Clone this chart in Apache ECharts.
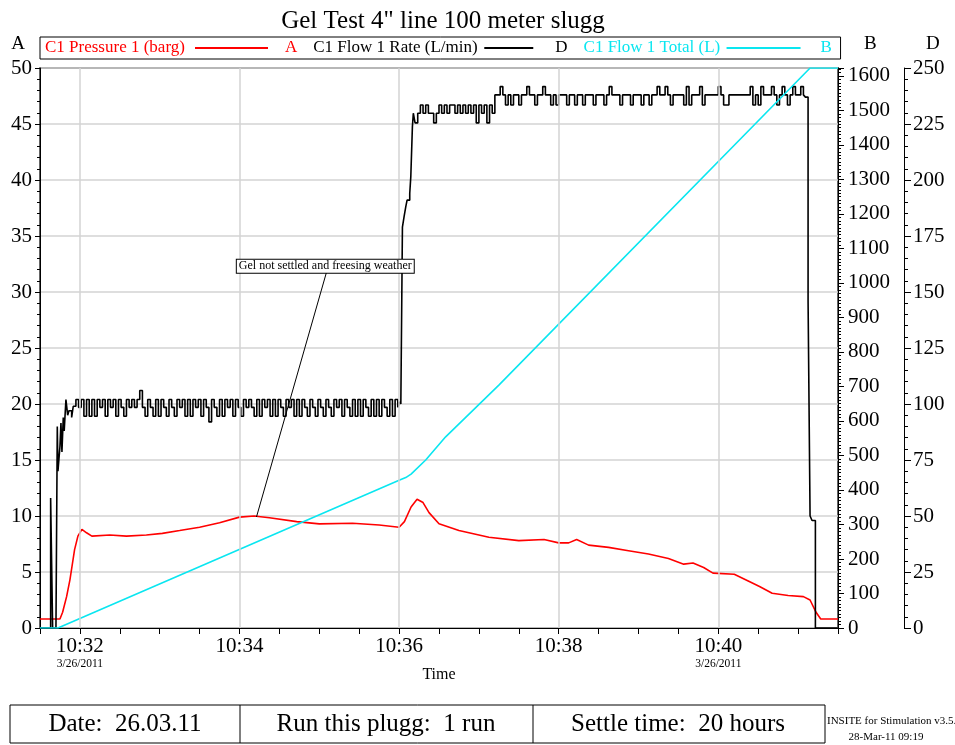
<!DOCTYPE html>
<html>
<head>
<meta charset="utf-8">
<script src="https://cdn.jsdelivr.net/npm/echarts@6/dist/echarts.min.js"></script>
<style>
  html, body { margin: 0; padding: 0; background: #fff; }
  #main { width: 955px; height: 745px; }
</style>
</head>
<body>
<div id="main"></div>
<script>
// time in seconds after 10:31:30 (3/26/2011)
var baseSec = 10 * 3600 + 31 * 60 + 30;
var majorTimes = [30, 150, 270, 390, 510];
var dateTimes = [30, 510];

// C1 Pressure 1 (barg) - axis A
var pressureT = [0, 15, 17, 20, 22.5, 26, 28.5, 31.5, 33, 35, 39, 52.5, 65, 80, 92, 105, 120, 135, 150, 161,
  172.5, 193, 210, 235, 255, 270, 274, 279, 283.5, 288, 292.5, 300, 315, 337.5, 360, 379, 390, 397.5, 403.5, 412.5,
  427.5, 442.5, 457.5, 472.5, 484, 491, 499, 506, 522, 532.5, 541, 550.5, 562.5, 574, 579, 583.5, 587, 600];
var pressureV = [0.8, 0.8, 1.4, 2.8, 4.3, 7.0, 8.2, 8.8, 8.9, 8.5, 8.2, 8.3, 8.2, 8.3, 8.45, 8.7, 9.0, 9.4, 9.9, 10.0,
  9.85, 9.5, 9.3, 9.35, 9.2, 9.0, 9.5, 10.8, 11.5, 11.2, 10.3, 9.3, 8.7, 8.1, 7.8, 7.9, 7.6, 7.6, 7.9, 7.4,
  7.2, 6.9, 6.6, 6.2, 5.7, 5.8, 5.4, 4.9, 4.8, 4.2, 3.7, 3.1, 2.9, 2.8, 2.5, 1.4, 0.8, 0.8];

// C1 Flow 1 Rate (L/min) - axis D
var rateHeadT = [0, 6, 8, 9.5, 12, 13, 13.5, 15, 15.75, 16.5, 17.5, 18.2, 19.5, 20.8, 21.75, 23.8, 25];
var rateHeadV = [0, 0, 58, 0, 0, 90, 70, 81, 91.5, 78.6, 94, 88, 102, 95, 97, 94, 99];
var rateStep = 2;
var rateNoise1Start = 27;
var rateNoise1 = [102, 98.5, 102, 94.5, 102, 94.5, 102, 94.5, 102, 98.5, 102, 94.5, 102, 98.5, 102, 94.5, 102, 98.5, 94.5, 102,
  98.5, 102, 98.5, 102, 106, 98.5, 94.5, 102, 98.5, 94.5, 102, 94.5, 102, 98.5, 94.5, 102, 98.5, 94.5, 102, 98.5,
  102, 94.5, 102, 94.5, 102, 98.5, 102, 94.5, 102, 98.5, 92, 102, 98.5, 94.5, 102, 94.5, 102, 98.5, 102, 94.5,
  102, 98.5, 94.5, 102, 98.5, 102, 98.5, 94.5, 102, 94.5, 102, 98.5, 102, 94.5, 102, 94.5, 102, 98.5, 94.5, 102,
  98.5, 102, 94.5, 102, 94.5, 102, 98.5, 94.5, 102, 98.5, 94.5, 102, 98.5, 94.5, 102, 98.5, 94.5, 102, 98.5, 102,
  94.5, 102, 98.5, 94.5, 102, 94.5, 102, 94.5, 102, 98.5, 94.5, 102, 94.5, 102, 94.5, 102, 98.5, 94.5, 102, 94.5,
  102, 98.5];
var rateRiseT = [270.5, 271.3, 272.5, 273.75, 275, 276, 278, 278.8, 280, 280.7];
var rateRiseV = [101, 100, 179, 183.6, 188, 191, 194, 201.5, 223.8, 229.8];
var rateNoise2Start = 282;
var rateNoise2 = [225.5, 229.8, 233.5, 229.8, 233.5, 229.8, 229.8, 225.5, 229.8, 233.5, 229.8, 233.5, 229.8, 233.5, 233.5,
  229.8, 233.5, 229.8, 233.5, 229.8, 233.5, 229.8, 233.5, 225.5, 233.5, 229.8, 233.5, 225.5, 233.5, 229.8];
var rateNoise3Start = 342;
var rateNoise3 = [238, 238, 241.7, 238, 233.5, 238, 233.5, 238, 238, 233.5, 238, 238, 241.7, 238, 238, 233.5, 238, 238, 241.7, 238,
  238, 233.5, 238, 233.5, 238, 238, 238, 233.5, 238, 238, 233.5, 238, 238, 233.5, 238, 238, 238, 233.5, 238, 238,
  238, 233.5, 238, 241.7, 238, 238, 238, 233.5, 238, 238, 238, 233.5, 238, 238, 238, 233.5, 238, 238, 233.5, 238,
  238, 241.7, 238, 238, 241.7, 238, 233.5, 238, 238, 238, 238, 233.5, 241.7, 233.5, 238, 238, 238, 241.7, 233.5, 238,
  238, 238, 238, 238, 241.7, 238, 233.5, 233.5, 238, 238, 238, 238, 238, 238, 238, 238, 241.7, 233.5, 238, 233.5,
  241.7, 238, 238, 238, 241.7, 238, 233.5, 238, 241.7, 238, 233.5, 238, 241.7, 238, 238, 241.7, 238];
var rateTailT = [575.5, 577.5, 579, 580.5, 583, 600];
var rateTailV = [237, 146, 50, 48, 0, 0];

// C1 Flow 1 Total (L) - axis B
var totalT = [0, 13.5, 270, 275, 279, 290, 305, 345, 579, 600];
var totalV = [0, 0, 428, 436, 446, 487, 554, 704, 1623, 1623];

var FONT = 'Liberation Serif';
var RED = '#ff0000', CYAN = '#0ae6f0';

function pairs(ts, vs) {
  var out = [];
  for (var i = 0; i < ts.length; i++) out.push([ts[i], vs[i]]);
  return out;
}
function stepped(start, vs) {
  var out = [];
  for (var i = 0; i < vs.length; i++) out.push([start + i * rateStep, vs[i]]);
  return out;
}
function fmtTime(v) {
  var s = baseSec + v;
  var h = Math.floor(s / 3600);
  var m = Math.floor((s % 3600) / 60);
  return h + ':' + (m < 10 ? '0' : '') + m;
}

var rateData = pairs(rateHeadT, rateHeadV)
  .concat(stepped(rateNoise1Start, rateNoise1))
  .concat(pairs(rateRiseT, rateRiseV))
  .concat(stepped(rateNoise2Start, rateNoise2))
  .concat(stepped(rateNoise3Start, rateNoise3))
  .concat(pairs(rateTailT, rateTailV));

var legendText = {
  'C1 Pressure 1 (barg)': '{t1|C1 Pressure 1 (barg)}{l1| }{s1| }{kr|A}',
  'C1 Flow 1 Rate (L/min)': '{t2|C1 Flow 1 Rate (L/min)}{l2| }{s2| }{kb|D}',
  'C1 Flow 1 Total (L)': '{t3|C1 Flow 1 Total (L)}{l3| }{s3| }{kc|B}'
};

var tickOut = { show: true, inside: false, lineStyle: { color: '#000' } };

var myChart = echarts.init(document.getElementById('main'));
var option = {
  animation: false,
  backgroundColor: '#fff',
  title: {
    text: 'Gel Test 4" line 100 meter slugg',
    left: 438, top: 4, textAlign: 'center',
    textStyle: { fontFamily: FONT, fontSize: 25, fontWeight: 'normal', color: '#000' }
  },
  legend: {
    left: 40, top: 37,
    icon: 'rect', itemWidth: 0, itemHeight: 0, itemGap: 11,
    padding: [2, 8, 2, 0],
    borderColor: '#000', borderWidth: 1,
    selectedMode: false,
    data: ['C1 Pressure 1 (barg)', 'C1 Flow 1 Rate (L/min)', 'C1 Flow 1 Total (L)'],
    formatter: function (name) { return legendText[name]; },
    textStyle: {
      fontFamily: FONT, fontSize: 17, lineHeight: 18,
      rich: {
        t1: { color: RED, width: 150, fontFamily: FONT, fontSize: 17 },
        t2: { color: '#000', width: 171, fontFamily: FONT, fontSize: 17 },
        t3: { color: CYAN, width: 143, fontFamily: FONT, fontSize: 17 },
        l1: { width: 73, height: 2, backgroundColor: RED },
        l2: { width: 49, height: 2, backgroundColor: '#000' },
        l3: { width: 74, height: 2, backgroundColor: CYAN },
        s1: { width: 17 }, s2: { width: 22 }, s3: { width: 20 },
        kr: { color: RED, width: 12, fontFamily: FONT, fontSize: 17 },
        kb: { color: '#000', width: 12, fontFamily: FONT, fontSize: 17 },
        kc: { color: CYAN, width: 12, fontFamily: FONT, fontSize: 17 }
      }
    }
  },
  grid: {
    left: 40, right: 117, top: 68, bottom: 117,
    show: true, borderColor: '#333', borderWidth: 1.5, backgroundColor: 'transparent'
  },
  xAxis: {
    type: 'value', min: 0, max: 600, interval: 30,
    name: 'Time', nameLocation: 'middle', nameGap: 39, nameMoveOverlap: false,
    nameTextStyle: { fontFamily: FONT, fontSize: 16, color: '#000' },
    axisLine: { lineStyle: { color: '#000', width: 1 } },
    axisTick: { show: true, inside: false, length: 6, lineStyle: { color: '#000' } },
    splitLine: { show: false },
    axisLabel: {
      fontFamily: FONT, fontSize: 21, color: '#000', margin: 7, lineHeight: 22,
      formatter: function (v) {
        if (majorTimes.indexOf(v) < 0) return '';
        return fmtTime(v) + (dateTimes.indexOf(v) >= 0 ? '\n{d|3/26/2011}' : '');
      },
      rich: { d: { fontFamily: FONT, fontSize: 11.5, lineHeight: 13, color: '#000' } }
    }
  },
  yAxis: [
    {
      type: 'value', position: 'left', min: 0, max: 50, interval: 5,
      name: 'A', nameLocation: 'end', nameGap: 24,
      nameTextStyle: { fontFamily: FONT, fontSize: 19, color: '#000', align: 'right', verticalAlign: 'middle', padding: [0, 15, 0, 0] },
      axisLine: { show: true, lineStyle: { color: '#000' } },
      axisTick: Object.assign({ length: 5 }, tickOut),
      minorTick: { show: true, splitNumber: 5, length: 3, lineStyle: { color: '#000' } },
      splitLine: { show: true, lineStyle: { color: '#d3d3d3', width: 1.5 } },
      axisLabel: { fontFamily: FONT, fontSize: 21, color: '#000', margin: 8 }
    },
    {
      type: 'value', position: 'right', min: 0, max: 1623, interval: 100,
      name: 'B', nameLocation: 'end', nameGap: 24,
      nameTextStyle: { fontFamily: FONT, fontSize: 19, color: '#000', align: 'left', verticalAlign: 'middle', padding: [0, 0, 0, 26] },
      axisLine: { show: true, lineStyle: { color: '#000' } },
      axisTick: Object.assign({ length: 6 }, tickOut),
      minorTick: { show: true, splitNumber: 10, length: 3, lineStyle: { color: '#000' } },
      splitLine: { show: false },
      axisLabel: {
        fontFamily: FONT, fontSize: 21, color: '#000', margin: 10, showMaxLabel: false,
        formatter: function (v) { return v % 100 === 0 ? String(v) : ''; }
      }
    },
    {
      type: 'value', position: 'right', offset: 66, min: 0, max: 250, interval: 25,
      name: 'D', nameLocation: 'end', nameGap: 24,
      nameTextStyle: { fontFamily: FONT, fontSize: 19, color: '#000', align: 'left', verticalAlign: 'middle', padding: [0, 0, 0, 22] },
      axisLine: { show: true, lineStyle: { color: '#000' } },
      axisTick: Object.assign({ length: 7 }, tickOut),
      minorTick: { show: true, splitNumber: 5, length: 4, lineStyle: { color: '#000' } },
      splitLine: { show: false },
      axisLabel: { fontFamily: FONT, fontSize: 21, color: '#000', margin: 9 }
    }
  ],
  series: [
    {
      // vertical grid lines at the labelled times
      name: 'grid', type: 'line', data: [], silent: true,
      markLine: {
        silent: true, symbol: ['none', 'none'], label: { show: false },
        lineStyle: { color: '#d3d3d3', width: 1.5, type: 'solid' },
        data: majorTimes.map(function (t) { return { xAxis: t }; })
      }
    },
    {
      name: 'C1 Pressure 1 (barg)', type: 'line', yAxisIndex: 0,
      data: pairs(pressureT, pressureV),
      showSymbol: false, color: RED,
      lineStyle: { color: RED, width: 1.6 },
      markLine: {
        silent: true, symbol: ['none', 'none'], label: { show: false },
        lineStyle: { color: '#000', width: 1, type: 'solid' },
        data: [[{ coord: [162.75, 9.91] }, { coord: [215.25, 31.7] }]]
      },
      markPoint: {
        silent: true, symbol: 'rect', symbolSize: 1, itemStyle: { color: 'transparent' },
        data: [{ coord: [214.5, 32.3], value: 0 }],
        label: {
          show: true, position: 'inside', formatter: 'Gel not settled and freesing weather',
          fontFamily: FONT, fontSize: 12, color: '#000',
          backgroundColor: '#fff', borderColor: '#000', borderWidth: 1, padding: [1, 2, 0, 2]
        }
      }
    },
    {
      name: 'C1 Flow 1 Rate (L/min)', type: 'line', yAxisIndex: 2, step: 'end',
      data: rateData, showSymbol: false, color: '#000',
      lineStyle: { color: '#000', width: 1.6 }
    },
    {
      name: 'C1 Flow 1 Total (L)', type: 'line', yAxisIndex: 1,
      data: pairs(totalT, totalV), showSymbol: false, color: CYAN,
      lineStyle: { color: CYAN, width: 1.6 }
    }
  ],
  graphic: [
    { type: 'rect', shape: { x: 10, y: 705, width: 815, height: 38 }, style: { fill: '#fff', stroke: '#000', lineWidth: 1 } },
    { type: 'line', shape: { x1: 240, y1: 705, x2: 240, y2: 743 }, style: { stroke: '#000', lineWidth: 1 } },
    { type: 'line', shape: { x1: 533, y1: 705, x2: 533, y2: 743 }, style: { stroke: '#000', lineWidth: 1 } },
    { type: 'text', x: 125, y: 724, style: { text: 'Date:  26.03.11', font: '25px "Liberation Serif"', fill: '#000', align: 'center', verticalAlign: 'middle' } },
    { type: 'text', x: 386, y: 724, style: { text: 'Run this plugg:  1 run', font: '25px "Liberation Serif"', fill: '#000', align: 'center', verticalAlign: 'middle' } },
    { type: 'text', x: 678, y: 724, style: { text: 'Settle time:  20 hours', font: '25px "Liberation Serif"', fill: '#000', align: 'center', verticalAlign: 'middle' } },
    { type: 'text', x: 827, y: 721, style: { text: 'INSITE for Stimulation v3.5.', font: '11px "Liberation Serif"', fill: '#000', align: 'left', verticalAlign: 'middle' } },
    { type: 'text', x: 886, y: 737, style: { text: '28-Mar-11 09:19', font: '11px "Liberation Serif"', fill: '#000', align: 'center', verticalAlign: 'middle' } }
  ]
};
myChart.setOption(option);
</script>
</body>
</html>
